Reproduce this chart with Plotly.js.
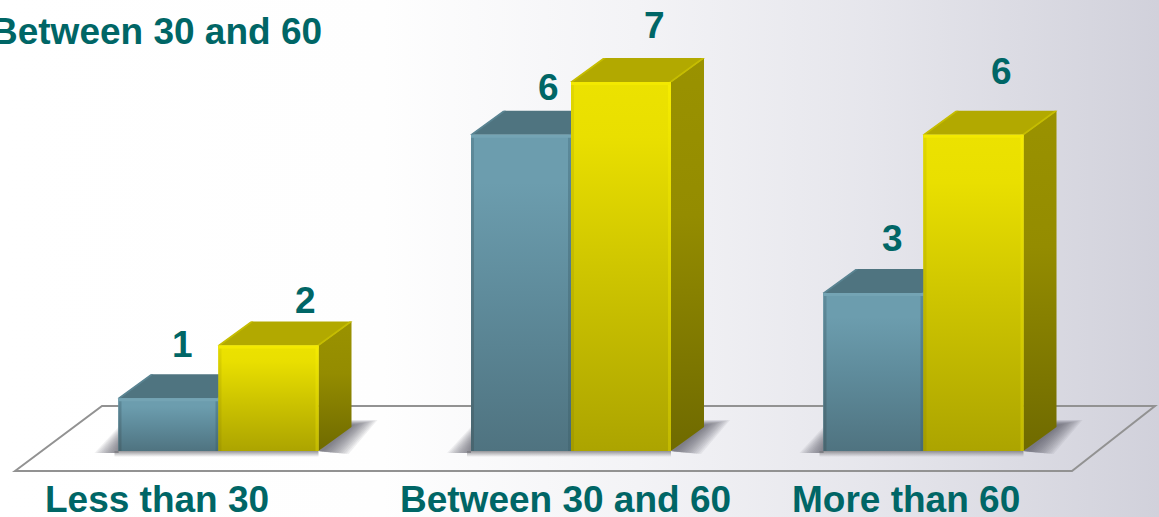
<!DOCTYPE html>
<html>
<head>
<meta charset="utf-8">
<script src="https://cdn.plot.ly/plotly-3.0.1.min.js"></script>
<style>
  html, body { margin: 0; padding: 0; width: 1159px; height: 517px; overflow: hidden; }
  body { background: linear-gradient(90deg, #ffffff 0%, #fefefe 33%, #f3f3f6 55%, #e6e6ec 75%, #d1d1db 100%); }
  #chart { width: 1159px; height: 517px; }
</style>
</head>
<body>
<div id="chart"></div>
<script>
// Answer counts per age group
const categories = ["Less than 30", "Between 30 and 60", "More than 60"];
const blueValues = [1, 6, 3];
const yellowValues = [2, 7, 6];
const heading = "Between 30 and 60";

// Canvas scale: pixels per data unit on each axis
const W = 1159, H = 517;
const pxPerX = 352.5, pxPerY = 52.7;
const zeroPx = [218.5, 451];
const dataX = px => (px - zeroPx[0]) / pxPerX;
const dataY = py => (zeroPx[1] - py) / pxPerY;
const barW = 100 / pxPerX;
const depthX = 33 / pxPerX, depthY = 24 / pxPerY;
const pxX = p => p / pxPerX, pxY = p => p / pxPerY;

// Label nudges in pixels relative to each bar's front top edge centre
const blueShift = [[14, 54], [27, 47], [19, 54]];
const yellowShift = [[37, 45], [33, 57], [28, 63]];
const categoryShift = [-62, -6, -18];

const traces = [];

function face(xs, ys, type, stops) {
  traces.push({
    type: "scatter", mode: "none", x: xs.concat(xs[0]), y: ys.concat(ys[0]),
    fill: "toself", fillgradient: { type: type, colorscale: stops },
    hoverinfo: "skip", showlegend: false
  });
}
function flat(xs, ys, color) {
  traces.push({
    type: "scatter", mode: "none", x: xs.concat(xs[0]), y: ys.concat(ys[0]),
    fill: "toself", fillcolor: color, hoverinfo: "skip", showlegend: false
  });
}

// Flat column values underneath the shaded faces
function columns(values, color, name, offset) {
  traces.push({
    type: "bar", name: name, x: [0, 1, 2], y: values, width: barW, offset: offset,
    marker: { color: color, line: { width: 0 } }, hoverinfo: "skip", showlegend: false
  });
}
columns(blueValues, "#5f8d9d", "Blue", -barW);
columns(yellowValues, "#cfc600", "Yellow", 0);

// Soft contact shadows on the floor, built from stacked translucent layers
const shadowLayers = [0, 0.08, 0.16, 0.25, 0.33, 0.42, 0.5, 0.58, 0.67, 0.75, 0.84, 0.92, 1];
function shadows(i) {
  const l = i - barW, r = i + barW;
  shadowLayers.forEach(t => {
    flat([l - pxX(2 + 22 * t), l, l], [pxY(-2), pxY(6 + 18 * t), pxY(-2)], "rgba(95,95,100,0.085)");
    flat([r, r + depthX, r + depthX + pxX(2 + 24 * t), r + pxX(4 + 26 * t)],
         [0, depthY + pxY(2 + 5 * t), depthY + pxY(2 + 5 * t), pxY(-1 - 2 * t)], "rgba(85,85,90,0.085)");
  });
  face([l - pxX(4), r, r, l - pxX(4)], [0, 0, pxY(-6), pxY(-6)], "vertical",
    [[0, "rgba(130,130,135,0)"], [1, "rgba(120,120,125,0.8)"]]);
}
[0, 1, 2].forEach(shadows);

function box(i, v, left, colors) {
  const x0 = i + left, x1 = x0 + barW;
  // receding side
  face([x1, x1 + depthX, x1 + depthX, x1], [0, depthY, v + depthY, v], "vertical", colors.side);
  // top
  flat([x0, x0 + depthX, x1 + depthX, x1], [v, v + depthY, v + depthY, v], colors.top);
  // lit diagonal bevels between top and sides
  const b = pxX(2);
  flat([x1 - b, x1 + depthX - b, x1 + depthX + b * 0.5, x1 + b * 0.5], [v, v + depthY, v + depthY, v], colors.bevel);
  flat([x0 - b * 0.5, x0 + depthX - b * 0.5, x0 + depthX + b, x0 + b], [v, v + depthY, v + depthY, v], colors.bevel);
  // front
  face([x0, x1, x1, x0], [0, 0, v, v], "vertical", colors.front);
  // bevel highlights along the front edges
  const e = pxX(3), t = pxY(3);
  face([x1 - e, x1, x1, x1 - e], [0, 0, v, v], "vertical", colors.edgeRight);
  face([x0, x0 + e, x0 + e, x0], [0, 0, v, v], "vertical", colors.edgeLeft);
  flat([x0, x1, x1, x0], [v - t, v - t, v, v], colors.edgeTop);
}

const blueStyle = {
  side: [[0, "#3f5c66"], [1, "#4d707c"]],
  top: "#4f7480",
  bevel: "#5a8492",
  front: [[0, "#4f7380"], [0.5, "#5f8c9c"], [0.85, "#6c9dae"], [1, "#6c9dae"]],
  edgeRight: [[0, "#466a76"], [1, "#5b8a9b"]],
  edgeLeft: [[0, "#48656f"], [1, "#5e8b9b"]],
  edgeTop: "#74a4b4"
};
const yellowStyle = {
  side: [[0, "#6f6a00"], [0.6, "#948c00"], [1, "#9a9200"]],
  top: "#b2a900",
  bevel: "#c6bd00",
  front: [[0, "#aca400"], [0.5, "#cfc600"], [0.85, "#e9df00"], [1, "#ece200"]],
  edgeRight: [[0, "#c2b900"], [1, "#f6ec00"]],
  edgeLeft: [[0, "#a29a00"], [1, "#e2d800"]],
  edgeTop: "#f3e900"
};

blueValues.forEach((v, i) => box(i, v, -barW, blueStyle));
yellowValues.forEach((v, i) => box(i, v, 0, yellowStyle));

const textFont = { family: "Liberation Sans, Arial, sans-serif", size: 37, color: "#006666" };
const annotations = [];
function valueLabels(values, left, shifts) {
  values.forEach((v, i) => annotations.push({
    x: i + left + barW / 2, y: v, xref: "x", yref: "y", text: "<b>" + v + "</b>", showarrow: false,
    xshift: shifts[i][0], yshift: shifts[i][1], xanchor: "center", yanchor: "middle", font: textFont
  }));
}
valueLabels(blueValues, -barW, blueShift);
valueLabels(yellowValues, 0, yellowShift);
categories.forEach((c, i) => annotations.push({
  x: i, y: dataY(499), xref: "x", yref: "y", text: "<b>" + c + "</b>", showarrow: false,
  xshift: categoryShift[i], xanchor: "center", yanchor: "middle", height: 32, font: textFont
}));
annotations.push({
  x: dataX(156.5), y: dataY(31), xref: "x", yref: "y", text: "<b>" + heading + "</b>", showarrow: false,
  xanchor: "center", yanchor: "middle", font: textFont
});

// Floor outline behind the columns
const floorLine = { color: "#929292", width: 2 };
const floorX = [15, 102, 1155, 1072, 15].map(dataX);
const floorY = [471, 406, 406, 471, 471].map(dataY);
const floorShape = {
  type: "path", layer: "below", line: floorLine, xref: "x", yref: "y",
  path: floorX.map((x, k) => (k ? "L" : "M") + x + "," + floorY[k]).join(" ") + " Z"
};

Plotly.newPlot("chart", traces, {
  width: W, height: H,
  margin: { l: 0, r: 0, t: 0, b: 0, pad: 0 },
  paper_bgcolor: "rgba(0,0,0,0)", plot_bgcolor: "rgba(0,0,0,0)",
  barmode: "overlay",
  showlegend: false,
  xaxis: { range: [dataX(0), dataX(W)], visible: false, fixedrange: true },
  yaxis: { range: [dataY(H), dataY(0)], visible: false, fixedrange: true },
  shapes: [floorShape],
  annotations: annotations
}, { displayModeBar: false, staticPlot: true });
</script>
</body>
</html>
